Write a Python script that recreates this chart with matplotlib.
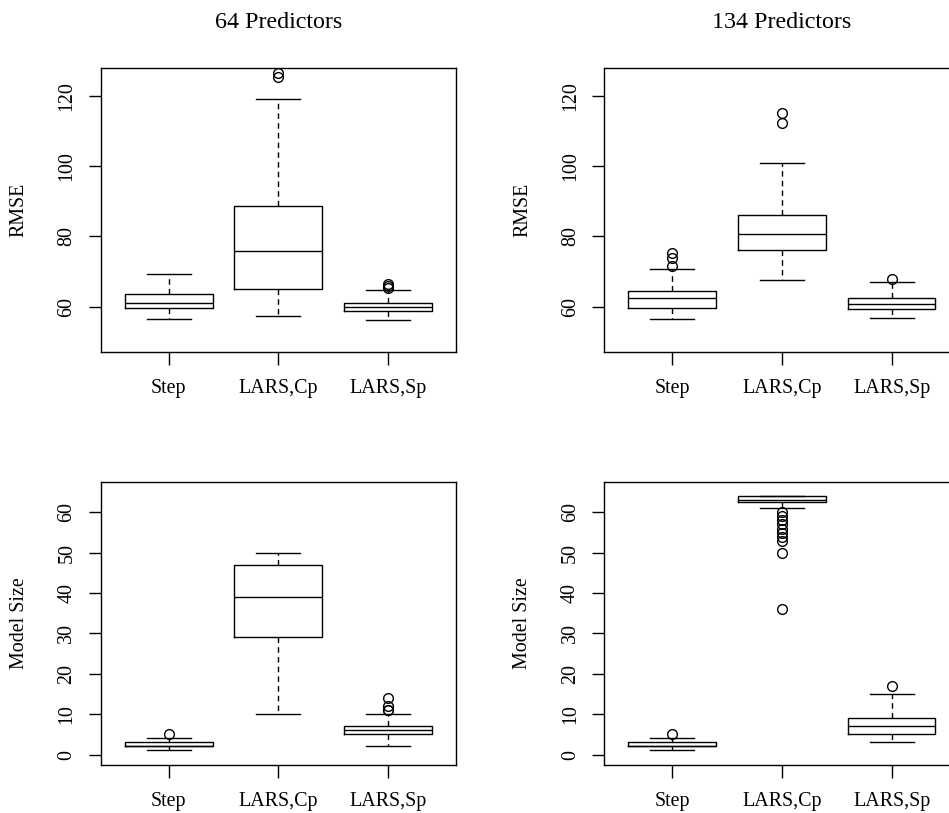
import matplotlib
matplotlib.use("Agg")
import matplotlib.pyplot as plt

plt.rcParams['font.family'] = ['Liberation Serif', 'DejaVu Serif']

methods = ["Step", "LARS,Cp", "LARS,Sp"]
titles = ["64 Predictors", "134 Predictors"]

# box stats: (whislo, q1, med, q3, whishi)
rmse_64 = [(56.6, 59.5, 61.1, 63.7, 69.2),
           (57.4, 65.0, 75.8, 88.6, 119.3),
           (56.1, 58.7, 59.9, 61.1, 64.7)]
rmse_64_out = [[], [125.3, 126.7], [65.4, 65.9, 66.4]]

rmse_134 = [(56.6, 59.5, 62.4, 64.4, 70.7),
            (67.5, 76.2, 80.8, 86.2, 100.9),
            (56.7, 59.4, 60.9, 62.5, 67.1)]
rmse_134_out = [[71.6, 73.8, 75.3], [112.2, 115.3], [67.8]]

size_64 = [(1, 2, 2, 3, 4),
           (10, 29, 39, 47, 50),
           (2, 5, 6, 7, 10)]
size_64_out = [[5], [], [11, 11, 12, 14]]

size_134 = [(1, 2, 2, 3, 4),
            (61, 62.5, 63, 64, 64),
            (3, 5, 7, 9, 15)]
size_134_out = [[5], [36, 50, 53, 54, 55, 56, 57, 58, 59, 60], [17]]

W, H = 949, 813
fig = plt.figure(figsize=(W / 100, H / 100), dpi=100)

panels = [
    (rmse_64, rmse_64_out, "RMSE", 100.7, 68, 352.3, (47, 128), [60, 80, 100, 120], titles[0]),
    (rmse_134, rmse_134_out, "RMSE", 604.3, 68, 352.3, (47, 128), [60, 80, 100, 120], titles[1]),
    (size_64, size_64_out, "Model Size", 100.7, 481.7, 765, (-2.6, 67.6), [0, 10, 20, 30, 40, 50, 60], None),
    (size_134, size_134_out, "Model Size", 604.3, 481.7, 765, (-2.6, 67.6), [0, 10, 20, 30, 40, 50, 60], None),
]

lw = 1.0
for stats_in, outs, ylab, x0, ytop, ybot, ylim, yt, title in panels:
    ax = fig.add_axes([x0 / W, 1 - ybot / H, 355.3 / W, (ybot - ytop) / H])
    stats = []
    for s, o, name in zip(stats_in, outs, methods):
        stats.append(dict(whislo=s[0], q1=s[1], med=s[2], q3=s[3], whishi=s[4],
                          fliers=o, label=name))
    ax.bxp(stats, positions=[1, 2, 3], widths=0.8,
           boxprops=dict(color='black', linewidth=lw),
           medianprops=dict(color='black', linewidth=lw),
           whiskerprops=dict(color='black', linewidth=lw, linestyle=(0, (4, 3))),
           capprops=dict(color='black', linewidth=lw),
           flierprops=dict(marker='o', markerfacecolor='none', markeredgecolor='black',
                           markersize=7, markeredgewidth=lw, linestyle='none'))
    ax.set_xlim(0.38, 3.62)
    ax.set_ylim(*ylim)
    ax.set_yticks(yt)
    ax.set_yticklabels([str(v) for v in yt], rotation=90, va='center')
    ax.set_xticks([1, 2, 3])
    ax.set_xticklabels(methods)
    ax.tick_params(direction='out', length=9, width=lw, labelsize=14.4)
    ax.tick_params(axis='y', pad=8.5)
    ax.tick_params(axis='x', pad=10.5)
    for sp in ax.spines.values():
        sp.set_linewidth(lw)
    ax.set_ylabel(ylab, fontsize=14.4)
    ax.yaxis.set_label_coords(-72 / 355.3, 0.5)
    if title:
        ax.set_title(title, fontsize=17.3, pad=29)

fig.savefig("out.png", dpi=100)
